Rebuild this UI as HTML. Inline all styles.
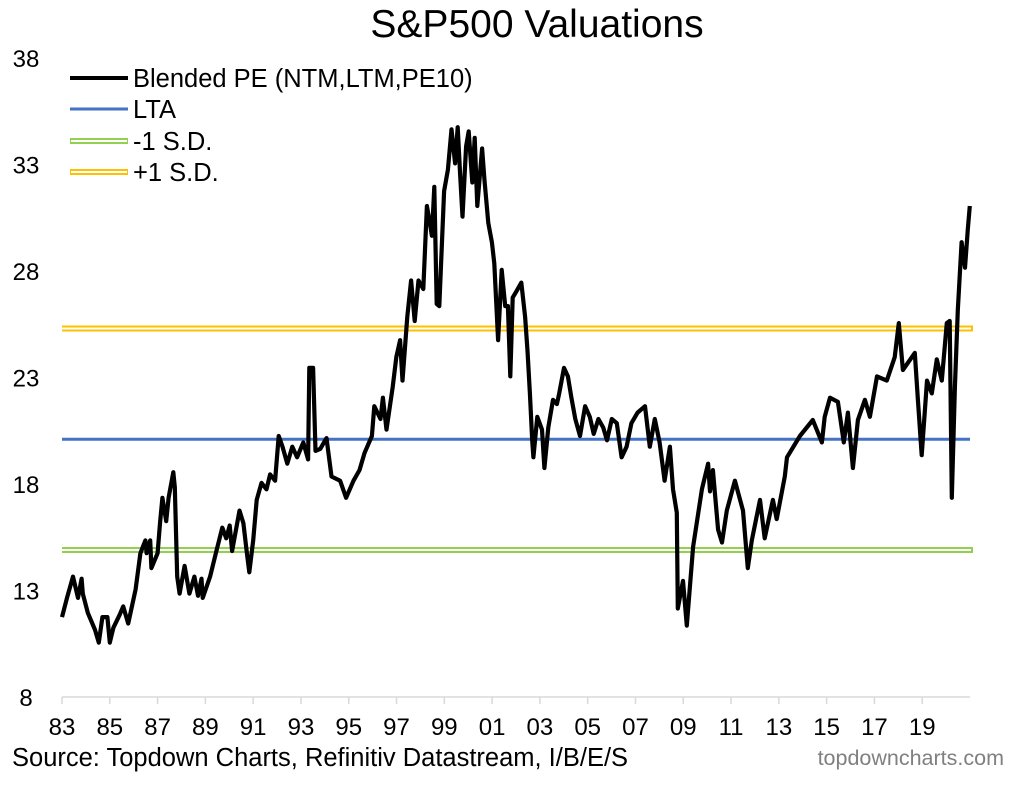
<!DOCTYPE html>
<html><head><meta charset="utf-8"><style>
body{margin:0;background:#fff;}
svg text{font-family:"Liberation Sans",Arial,sans-serif;}
</style></head><body>
<svg id="chart" width="1011" height="783" xmlns="http://www.w3.org/2000/svg">
<text x="537" y="37" text-anchor="middle" font-size="39" fill="#000">S&amp;P500 Valuations</text>
<g id="yaxis"></g>
<g id="xaxis"></g>
<g id="refs"></g>
<path id="pe" fill="none" stroke="#000" stroke-width="4.2" stroke-linejoin="round"/>
<g>
 <g><line x1="70" y1="78" x2="128" y2="78" stroke="#000" stroke-width="4"/><text x="133" y="87" font-size="25.5">Blended PE (NTM,LTM,PE10)</text></g>
 <g><line x1="70" y1="109" x2="128" y2="109" stroke="#4472C4" stroke-width="3"/><text x="133" y="118" font-size="25.5">LTA</text></g>
 <g><line x1="70" y1="141" x2="128" y2="141" stroke="#92D050" stroke-width="6"/><line x1="71" y1="141" x2="127" y2="141" stroke="#fff" stroke-width="2"/><text x="133" y="150" font-size="25.5">-1 S.D.</text></g>
 <g><line x1="70" y1="172" x2="128" y2="172" stroke="#FFC000" stroke-width="6"/><line x1="71" y1="172" x2="127" y2="172" stroke="#fff" stroke-width="2"/><text x="133" y="181" font-size="25.5">+1 S.D.</text></g>
</g>
<text x="12" y="766" font-size="25.5" fill="#000">Source: Topdown Charts, Refinitiv Datastream, I/B/E/S</text>
<text x="1004" y="765" text-anchor="end" font-size="21.5" fill="#808080">topdowncharts.com</text>
</svg>
<script>
const yTicks=[8,13,18,23,28,33,38];
const xTickLabels=["83","85","87","89","91","93","95","97","99","01","03","05","07","09","11","13","15","17","19"];
const refLevels=[20.15,14.95,25.35];
const years=[1983.0,1983.21,1983.46,1983.67,1983.82,1983.87,1984.08,1984.38,1984.54,1984.69,1984.9,1985.0,1985.15,1985.41,1985.56,1985.77,1986.08,1986.28,1986.49,1986.54,1986.69,1986.74,1987.0,1987.1,1987.2,1987.36,1987.46,1987.66,1987.72,1987.82,1987.92,1988.13,1988.33,1988.54,1988.69,1988.84,1988.89,1989.2,1989.46,1989.71,1989.87,1990.02,1990.12,1990.43,1990.59,1990.74,1990.84,1991.0,1991.15,1991.35,1991.56,1991.71,1991.92,1992.07,1992.23,1992.43,1992.64,1992.84,1993.1,1993.3,1993.35,1993.51,1993.61,1993.81,1994.07,1994.28,1994.64,1994.89,1995.2,1995.45,1995.66,1995.97,1996.07,1996.33,1996.43,1996.58,1996.84,1996.99,1997.15,1997.25,1997.45,1997.61,1997.76,1997.92,1998.12,1998.27,1998.38,1998.48,1998.58,1998.68,1998.79,1998.99,1999.15,1999.3,1999.45,1999.56,1999.66,1999.76,1999.91,2000.02,2000.17,2000.27,2000.38,2000.58,2000.68,2000.84,2000.99,2001.09,2001.25,2001.4,2001.55,2001.66,2001.76,2001.86,2002.02,2002.22,2002.38,2002.48,2002.58,2002.68,2002.73,2002.89,2003.09,2003.19,2003.35,2003.55,2003.71,2003.81,2004.01,2004.17,2004.32,2004.48,2004.68,2004.89,2005.09,2005.25,2005.45,2005.65,2005.81,2006.01,2006.22,2006.42,2006.63,2006.83,2007.09,2007.4,2007.6,2007.81,2008.01,2008.22,2008.44,2008.57,2008.73,2008.77,2008.99,2009.15,2009.41,2009.78,2010.04,2010.12,2010.24,2010.46,2010.62,2010.82,2011.16,2011.5,2011.7,2011.87,2012.21,2012.41,2012.75,2012.91,2013.25,2013.34,2013.88,2014.42,2014.8,2014.92,2015.14,2015.47,2015.72,2015.89,2016.1,2016.31,2016.6,2016.81,2017.11,2017.52,2017.85,2018.02,2018.19,2018.69,2018.82,2018.98,2019.2,2019.4,2019.61,2019.82,2020.03,2020.15,2020.24,2020.37,2020.49,2020.65,2020.79,2020.91,2020.99];
const peValues=[11.8,12.7,13.7,12.7,13.6,12.9,12.0,11.2,10.6,11.8,11.8,10.6,11.3,11.9,12.3,11.5,13.1,14.8,15.4,14.8,15.4,14.1,14.8,16.2,17.4,16.3,17.4,18.6,17.9,13.7,12.9,14.2,12.9,13.7,12.8,13.6,12.7,13.7,14.9,16.0,15.5,16.1,14.9,16.8,16.2,14.8,13.9,15.4,17.3,18.1,17.8,18.5,18.2,20.3,19.8,19.0,19.8,19.3,20.0,19.2,23.5,23.5,19.6,19.7,20.2,18.4,18.2,17.4,18.2,18.7,19.5,20.3,21.7,21.1,22.1,20.6,22.6,24.0,24.8,22.9,25.9,27.6,25.7,27.6,27.2,31.1,30.4,29.7,32.0,26.5,26.4,31.8,32.8,34.7,33.1,34.8,32.6,30.6,33.9,34.6,32.2,34.3,31.1,33.8,32.3,30.3,29.4,28.4,24.8,28.1,26.4,26.4,23.1,26.8,27.1,27.5,25.9,24.3,22.3,20.1,19.3,21.2,20.6,18.8,20.7,22.0,21.8,22.3,23.5,23.1,22.1,21.1,20.3,21.7,21.2,20.4,21.1,20.7,20.1,21.1,20.9,19.3,19.8,20.9,21.4,21.7,19.8,21.1,20.0,18.2,19.8,17.8,16.7,12.2,13.5,11.4,15.1,17.8,19.0,17.7,18.7,15.9,15.3,16.8,18.2,16.8,14.1,15.4,17.3,15.5,17.3,16.4,18.4,19.3,20.3,21.05,20.0,21.2,22.1,21.9,20.0,21.4,18.8,21.05,22.0,21.2,23.1,22.9,24.0,25.6,23.4,24.2,22.0,19.4,22.9,22.3,23.9,22.9,25.6,25.7,17.4,22.6,26.2,29.4,28.2,30.0,31.1];
const X0=62,X1=970,Y0=59,Y1=698,NS="http://www.w3.org/2000/svg";
const xs=y=>X0+(y-1983)*(X1-X0)/38;
const ys=v=>Y1-(v-8)*(Y1-Y0)/30;
function mk(tag,attrs,parent){const e=document.createElementNS(NS,tag);for(const k in attrs)e.setAttribute(k,attrs[k]);parent.appendChild(e);return e;}
const ya=document.getElementById('yaxis'),xa=document.getElementById('xaxis'),rf=document.getElementById('refs');
yTicks.forEach(t=>{const e=mk('text',{x:26,y:ys(t)+8,'text-anchor':'middle','font-size':24},ya);e.textContent=t;

});
mk('line',{x1:X0,y1:Y1-1,x2:X1,y2:Y1-1,stroke:'#d9d9d9','stroke-width':1.5},xa);
xTickLabels.forEach((l,i)=>{const xx=xs(1983+2*i);
mk('line',{x1:xx,y1:Y1-1,x2:xx,y2:Y1+6,stroke:'#d9d9d9','stroke-width':1.5},xa);
const e=mk('text',{x:xx,y:735,'text-anchor':'middle','font-size':24},xa);e.textContent=l;

});
const lta=mk('line',{x1:X0,y1:ys(refLevels[0]),x2:X1,y2:ys(refLevels[0]),stroke:'#4472C4','stroke-width':3},rf);


[[refLevels[1],'#92D050','minus-1sd-line'],[refLevels[2],'#FFC000','plus-1sd-line']].forEach(([v,c,n])=>{
const g=mk('g',{},rf);


mk('line',{x1:X0,y1:ys(v),x2:X1+3,y2:ys(v),stroke:c,'stroke-width':6},g);
mk('line',{x1:X0,y1:ys(v),x2:X1+1,y2:ys(v),stroke:'#fff','stroke-width':2},g);});
let d='';const n=Math.min(years.length,peValues.length);
for(let i=0;i<n;i++){d+=(i?'L':'M')+xs(years[i]).toFixed(1)+','+ys(peValues[i]).toFixed(1);}
document.getElementById('pe').setAttribute('d',d);
</script>
</body></html>
